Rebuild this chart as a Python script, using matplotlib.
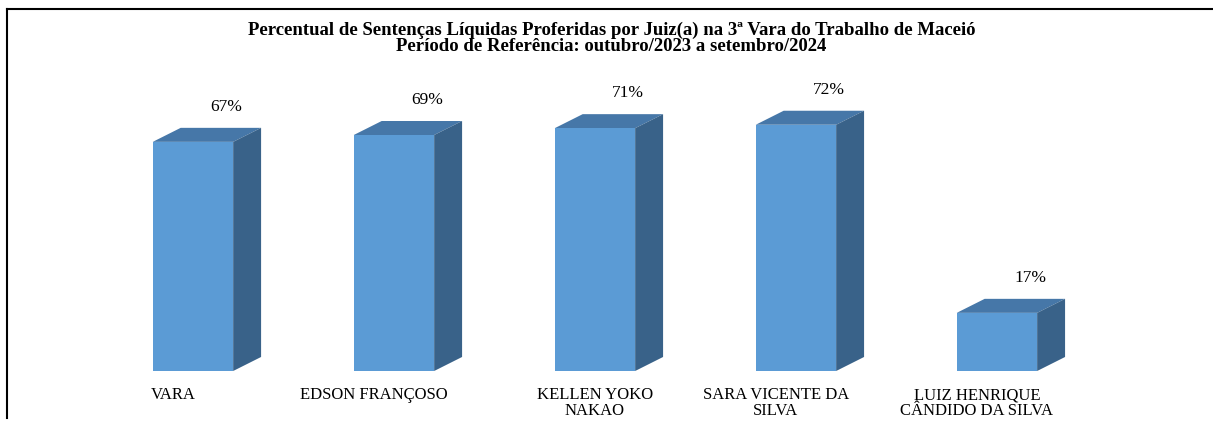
import matplotlib
matplotlib.use("Agg")
import matplotlib.pyplot as plt
from matplotlib.patches import Polygon
from matplotlib.lines import Line2D

# dados do gráfico
juizes = ["VARA", "EDSON FRANÇOSO", "KELLEN YOKO\nNAKAO", "SARA VICENTE DA\nSILVA",
          "LUIZ HENRIQUE\nCÂNDIDO DA SILVA"]
percentuais = [67, 69, 71, 72, 17]
rotulos = ["67%", "69%", "71%", "72%", "17%"]

titulo = ("Percentual de Sentenças Líquidas Proferidas por Juiz(a) na 3ª Vara do Trabalho de Maceió\n"
          "Período de Referência: outubro/2023 a setembro/2024")

cor_frente = "#5B9BD5"
cor_topo = "#4677A8"
cor_lado = "#396289"

plt.rcParams['font.family'] = ['Liberation Serif', 'DejaVu Serif']

fig = plt.figure(figsize=(12.13, 4.21), dpi=100)
ax = fig.add_axes([0, 0, 1, 1])
ax.set_xlim(-0.960, 5.075)
ax.set_ylim(-14.62, 108.48)
ax.axis("off")

largura = 0.40
prof_x = 0.139   # profundidade 3D em unidades de categoria
prof_y = 4.1     # profundidade 3D em unidades de %

x = list(range(len(juizes)))
ax.bar(x, percentuais, width=largura, color=cor_frente, zorder=3)

for i, v in zip(x, percentuais):
    esq = i - largura / 2
    dir_ = i + largura / 2
    topo = Polygon([(esq, v), (dir_, v), (dir_ + prof_x, v + prof_y), (esq + prof_x, v + prof_y)],
                   closed=True, facecolor=cor_topo, edgecolor="none", zorder=2)
    lado = Polygon([(dir_, 0), (dir_ + prof_x, prof_y), (dir_ + prof_x, v + prof_y), (dir_, v)],
                   closed=True, facecolor=cor_lado, edgecolor="none", zorder=2)
    ax.add_patch(topo)
    ax.add_patch(lado)

for i, v, r in zip(x, percentuais, rotulos):
    ax.text(i + 0.165, v + prof_y + 6.1, r, ha="center", va="center", fontsize=12.5)

for i, nome in zip(x, juizes):
    deslocamento = 0 if "KELLEN" in nome else -0.1
    ax.text(i + deslocamento, -4.8, nome, ha="center", va="top", fontsize=12, linespacing=0.95)

fig.text(0.504, 0.948, titulo, ha="center", va="top", fontsize=13.5, fontweight="bold", linespacing=0.9)

# moldura parcial (topo e esquerda)
fig.add_artist(Line2D([7 / 1213, 1], [1 - 9 / 421, 1 - 9 / 421], color="black", lw=1.5,
                      transform=fig.transFigure))
fig.add_artist(Line2D([7 / 1213, 7 / 1213], [1 - 9 / 421, 0.008], color="black", lw=1.5,
                      transform=fig.transFigure))

fig.savefig("out.png", dpi=100)
